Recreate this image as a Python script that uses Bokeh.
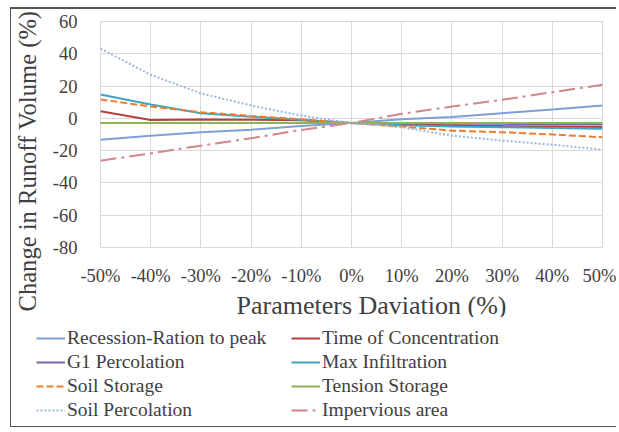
import math
from bokeh.plotting import figure
from bokeh.models import FixedTicker, Legend, LegendItem, Title
from bokeh.embed import file_html
from bokeh.resources import INLINE

# ---- data ----
deviation = [-50, -40, -30, -20, -10, 0, 10, 20, 30, 40, 50]
deviation_labels = ["-50%", "-40%", "-30%", "-20%", "-10%", "0%", "10%", "20%", "30%", "40%", "50%"]
y_ticks = [-80, -60, -40, -20, 0, 20, 40, 60]
y_tick_labels = ["-80", "-60", "-40", "-20", "0", "20", "40", "60"]

recession = [-13.2, -10.7, -8.6, -7.0, -4.8, -2.9, -0.5, 0.8, 3.2, 5.5, 7.9]
time_conc = [4.4, -1.0, -0.7, -0.8, -1.2, -2.9, -3.8, -4.3, -4.8, -5.0, -5.3]
g1_perc = [-2.9, -2.9, -2.9, -2.9, -2.9, -2.9, -3.0, -3.2, -3.4, -3.6, -3.8]
max_infil = [14.8, 8.6, 3.2, 1.0, -0.8, -2.9, -4.2, -5.1, -5.5, -5.9, -6.5]
soil_storage = [11.7, 7.3, 3.8, 1.5, -0.6, -2.9, -5.1, -7.6, -8.6, -10.0, -11.7]
tension_storage = [-2.8, -2.8, -2.8, -2.8, -2.8, -2.9, -2.8, -2.8, -2.8, -2.8, -2.8]
soil_perc = [43.2, 27.0, 15.5, 8.0, 1.7, -2.9, -5.5, -10.7, -13.8, -16.3, -19.4]
impervious = [-26.2, -21.7, -16.9, -12.3, -7.2, -2.9, 2.8, 7.3, 11.5, 16.2, 20.8]

series_names = ["Recession-Ration to peak", "Time of Concentration", "G1 Percolation",
                "Max Infiltration", "Soil Storage", "Tension Storage",
                "Soil Percolation", "Impervious area"]
series_values = [recession, time_conc, g1_perc, max_infil, soil_storage,
                 tension_storage, soil_perc, impervious]
series_colors = ["#7F9FD6", "#B4403F", "#7E60A8", "#3EA4C2", "#ED7D31",
                 "#8CB455", "#9DB5E0", "#D4868A"]
series_dash = ["solid", "solid", "solid", "solid", "7 3", "solid", "2 2", "16 5 3 5"]

FONT = "Liberation Serif"
TXT = "#404040"

# ---- main chart ----
p = figure(width=606, height=310, x_range=(-50, 50), y_range=(-80, 60),
           output_backend="svg", toolbar_location=None,
           min_border_left=89, min_border_right=15, min_border_top=12, min_border_bottom=72,
           styles={"margin-left": "10px", "margin-top": "7px",
                   "border-left": "1px solid #555555", "border-top": "2px solid #555555"})
p.background_fill_color = "white"
p.border_fill_color = "white"
p.outline_line_color = "#d9d9d9"

for ax in (p.xaxis[0], p.yaxis[0]):
    ax.axis_line_color = None
    ax.major_tick_line_color = None
    ax.minor_tick_line_color = None
    ax.major_label_text_font = FONT
    ax.major_label_text_font_size = "18.5px"
    ax.major_label_text_color = TXT

p.xaxis[0].ticker = FixedTicker(ticks=deviation)
p.xaxis[0].major_label_overrides = {x: l for x, l in zip(deviation, deviation_labels)}
p.xaxis[0].major_label_standoff = 12
p.yaxis[0].ticker = FixedTicker(ticks=y_ticks)
p.yaxis[0].major_label_overrides = {y: l for y, l in zip(y_ticks, y_tick_labels)}
p.yaxis[0].major_label_standoff = 17
# tiny blank axis label only to widen the axis panel a little
p.yaxis[0].axis_label = " "
p.yaxis[0].axis_label_text_font_size = "1px"
p.yaxis[0].axis_label_standoff = 5

p.xgrid.ticker = FixedTicker(ticks=deviation)
p.ygrid.ticker = FixedTicker(ticks=y_ticks)
p.grid.grid_line_color = "#d9d9d9"
p.grid.grid_line_width = 1

for name, vals, col, dash in zip(series_names, series_values, series_colors, series_dash):
    p.line(deviation, vals, line_color=col, line_width=2, line_dash=dash)

ytitle = Title(text="Change in Runoff Volume (%)", align="left", offset=-64, standoff=0,
               text_font=FONT, text_font_size="24.6px", text_color=TXT, text_font_style="normal")
p.add_layout(ytitle, "left")

xtitle = Title(text="Parameters Daviation (%)", align="left", offset=136, standoff=0,
               text_font=FONT, text_font_size="26px", text_color=TXT, text_font_style="normal")
p.add_layout(xtitle, "below")

# ---- legend strip (separate root, so its frame is not aligned to the chart's) ----
lg = figure(width=606, height=110, x_range=(-50, 50), y_range=(1000, 1001),
            output_backend="svg", toolbar_location=None,
            x_axis_location=None, y_axis_location=None,
            min_border_left=0, min_border_right=0, min_border_top=0, min_border_bottom=0,
            styles={"margin-left": "10px",
                    "border-left": "1px solid #555555", "border-bottom": "1px solid #555555"})
lg.grid.visible = False
lg.outline_line_color = None
lg.background_fill_color = "white"
lg.border_fill_color = "white"

renderers = {}
for name, vals, col, dash in zip(series_names, series_values, series_colors, series_dash):
    renderers[name] = lg.line(deviation, vals, line_color=col, line_width=2, line_dash=dash)

# legend fills column by column; reference reads row by row
legend_order = ["Recession-Ration to peak", "G1 Percolation", "Soil Storage", "Soil Percolation",
                "Time of Concentration", "Max Infiltration", "Tension Storage", "Impervious area"]
items = [LegendItem(label=n, renderers=[renderers[n]]) for n in legend_order]

legend = Legend(items=items, ncols=2, location=(25, 5),
                label_text_font=FONT, label_text_font_size="19.5px", label_text_color=TXT,
                glyph_width=29, glyph_height=24, label_height=24, label_width=224,
                label_standoff=2, spacing=0, padding=0, margin=0,
                border_line_color=None, background_fill_alpha=0)
lg.add_layout(legend, "center")

open("out.html", "w").write(file_html([p, lg], INLINE))
